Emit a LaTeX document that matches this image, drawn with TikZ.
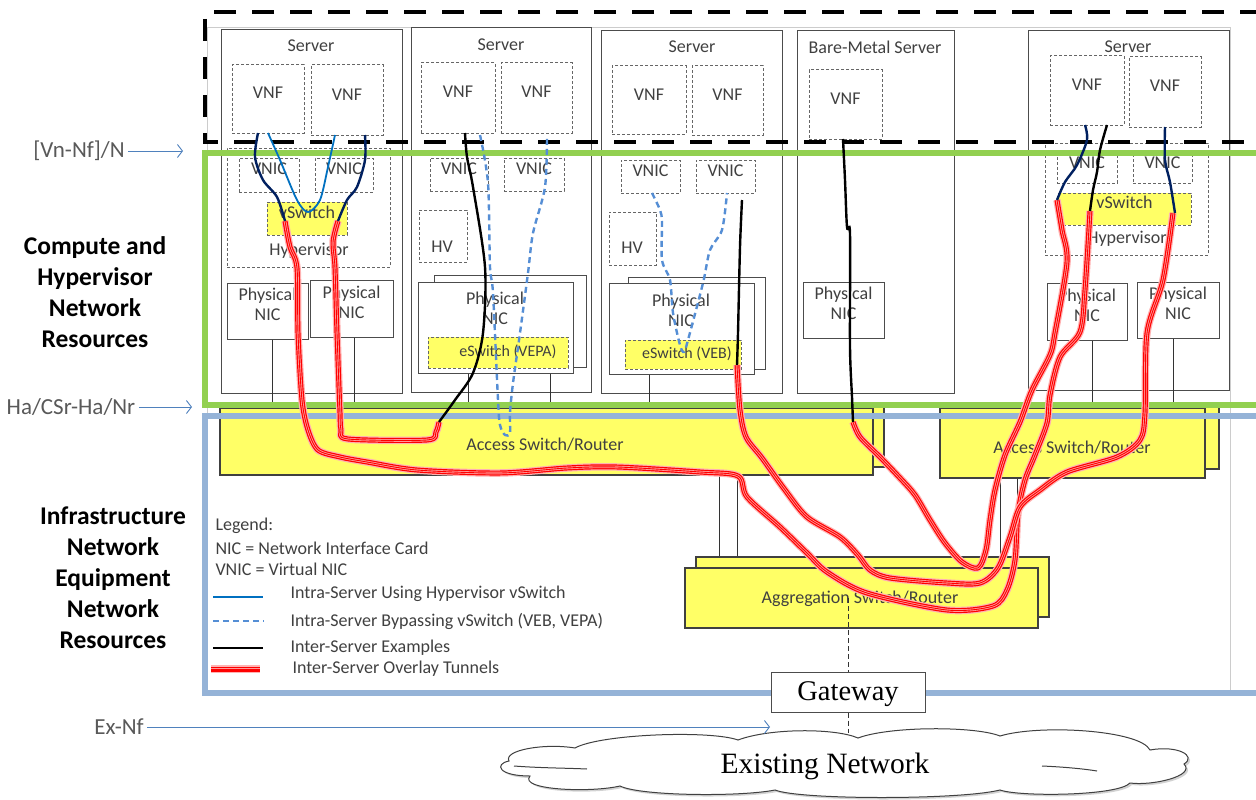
\documentclass[tikz,border=0pt]{standalone}
\usepackage{fontspec}
\setmainfont{Carlito}
\newfontfamily\serifgw{Liberation Serif}
\usetikzlibrary{arrows.meta, fit, shadows}

\definecolor{verdemarco}{HTML}{92D050}
\definecolor{azulmarco}{HTML}{95B3D7}
\definecolor{amarillo}{HTML}{FFFF66}
\definecolor{azulflecha}{HTML}{4F81BD}
\definecolor{marino}{HTML}{002060}
\definecolor{azulclaro}{HTML}{0070C0}
\definecolor{azulpunto}{HTML}{558ED5}
\definecolor{texto}{HTML}{404040}

\tikzset{
  etiq/.style={font=\fontsize{18pt}{20pt}\selectfont, text=texto},
  chica/.style={font=\fontsize{16pt}{18pt}\selectfont, text=texto},
  punto/.style={font=\fontsize{23pt}{26pt}\selectfont, text=black!65},
  grupo/.style={font=\fontsize{25.5pt}{31pt}\selectfont\bfseries, align=center},
  caja/.style={draw=black!70, line width=1pt, fill=white, inner sep=0pt},
  virtual/.style={draw=black!60, dash pattern=on 3pt off 2pt, line width=1pt, inner sep=0pt},
  conmut/.style={draw=black!75, fill=amarillo, line width=1.2pt, inner sep=0pt},
  vconmut/.style={virtual, fill=amarillo},
  enlace/.style={draw=black!80, line width=0.9pt},
  interfaz/.style={draw=azulflecha, line width=0.9pt, -{Straight Barb[length=5pt,width=13pt]}},
  intra/.style={draw=azulclaro, line width=1.8pt},
  bypass/.style={draw=azulpunto, line width=2.4pt, dash pattern=on 6pt off 4pt},
  inter/.style={draw=black, line width=2.4pt},
  vnic/.style={draw=marino, line width=2.4pt},
  tunel/.style={draw=red!30, line width=7.5pt, line join=round,
    postaction={draw=red, line width=5pt},
    postaction={draw=white, draw opacity=0.6, line width=2.6pt},
    postaction={draw=red, line width=0.9pt}},
}

\begin{document}
\begin{tikzpicture}[x=1pt, y=-1pt]
    \useasboundingbox (0,0) rectangle (1256,800);
    \fill[white] (0,0) rectangle (1256,800);
    \draw[black!20, line width=0.8pt] (207,27) rectangle (1230,693);

    % Servidores
    \node[caja, fit={(221,30) (402,393)}] (srv1) {};
    \node[caja, fit={(411,28) (591,392)}] (srv2) {};
    \node[caja, fit={(601,31) (782,393)}] (srv3) {};
    \node[caja, fit={(797,31) (954,393)}] (srv4) {};
    \node[caja, fit={(1028,31) (1229,390)}] (srv5) {};
    \node[etiq] (tit1) at (311,46) {Server};
    \node[etiq] (tit2) at (501,45) {Server};
    \node[etiq] (tit3) at (692,47) {Server};
    \node[etiq] (tit4) at (875,47) {Bare-Metal Server};
    \node[etiq] (tit5) at (1128,47) {Server};

    % VNF
    \node[virtual, etiq, fit={(232,65) (304,133)}] (vnf11) {VNF};
    \node[virtual, etiq, fit={(311,65) (383,135)}] (vnf12) {VNF};
    \node[virtual, etiq, fit={(421,63) (495,133)}] (vnf21) {VNF};
    \node[virtual, etiq, fit={(501,63) (572,133)}] (vnf22) {VNF};
    \node[virtual, etiq, fit={(612,66) (686,134)}] (vnf31) {VNF};
    \node[virtual, etiq, fit={(692,66) (763,135)}] (vnf32) {VNF};
    \node[virtual, etiq, fit={(809,70) (882,139)}] (vnf41) {VNF};
    \node[virtual, etiq, fit={(1050,56) (1124,125)}] (vnf51) {VNF};
    \node[virtual, etiq, fit={(1129,57) (1201,127)}] (vnf52) {VNF};

    % Hipervisores, VNIC y vSwitch
    \node[virtual, fit={(227,148) (390,267)}] (hyp1) {};
    \node[virtual, fit={(1045,143) (1208,255)}] (hyp5) {};
    \node[etiq] (hyptxt1) at (309,251) {Hypervisor};
    \node[etiq] (hyptxt5) at (1127,239) {Hypervisor};
    \node[virtual, etiq, fit={(239,158) (299,192)}] (vnic11) {VNIC};
    \node[virtual, etiq, fit={(315,158) (373,192)}] (vnic12) {VNIC};
    \node[virtual, etiq, fit={(430,158) (488,191)}] (vnic21) {VNIC};
    \node[virtual, etiq, fit={(504,158) (564,191)}] (vnic22) {VNIC};
    \node[virtual, etiq, fit={(621,160) (680,193)}] (vnic31) {VNIC};
    \node[virtual, etiq, fit={(696,160) (755,193)}] (vnic32) {VNIC};
    \node[virtual, etiq, fit={(1057,155) (1117,183)}] (vnic51) {VNIC};
    \node[virtual, etiq, fit={(1133,155) (1192,183)}] (vnic52) {VNIC};
    \node[vconmut, etiq, fit={(267,202) (347,235)}] (vsw1) {vSwitch};
    \node[vconmut, etiq, fit={(1058,193) (1191,225)}] (vsw5) {vSwitch};
    \node[virtual, fit={(419,210) (467,262)}] (hv2) {};
    \node[virtual, fit={(609,212) (656,265)}] (hv3) {};
    \node[etiq] (hvtxt2) at (442,247) {HV};
    \node[etiq] (hvtxt3) at (632,248) {HV};

    % NIC fisicas
    \node[caja, etiq, align=center, fit={(227,283) (308,339)}] (nic11) {Physical\\NIC};
    \node[caja, etiq, align=center, fit={(310,280) (393,337)}] (nic12) {Physical\\NIC};
    \node[caja, fit={(434,275) (586,367)}] (nic2b) {};
    \node[caja, fit={(418,282) (573,373)}] (nic2) {};
    \node[caja, fit={(628,277) (765,369)}] (nic3b) {};
    \node[caja, fit={(609,283) (754,374)}] (nic3) {};
    \node[caja, etiq, align=center, fit={(803,282) (884,338)}] (nic4) {Physical\\NIC};
    \node[caja, etiq, align=center, fit={(1047,283) (1127,340)}] (nic51) {Physical\\NIC};
    \node[caja, etiq, align=center, fit={(1137,282) (1219,338)}] (nic52) {Physical\\NIC};
    \node[etiq, align=center] (nictxt2) at (495,308) {Physical\\NIC};
    \node[etiq, align=center] (nictxt3) at (681,310) {Physical\\NIC};
    \node[vconmut, fit={(428,337) (568,368)}] (esw2) {};
    \node[vconmut, fit={(625,340) (741,369)}] (esw3) {};
    \node[chica] (eswtxt2) at (508,352) {eSwitch (VEPA)};
    \node[chica] (eswtxt3) at (687,354) {eSwitch (VEB)};

    % Conmutadores de acceso y agregacion
    \draw[enlace] (272,0 |- nic11.south) -- (272,410);
    \draw[enlace] (354,0 |- nic12.south) -- (354,410);
    \draw[enlace] (468,0 |- nic2.south) -- (468,410);
    \draw[enlace] (550,0 |- nic2.south) -- (550,410);
    \draw[enlace] (649,0 |- nic3.south) -- (649,410);
    \draw[enlace] (1092,0 |- nic51.south) -- (1092,410);
    \draw[enlace] (1173,0 |- nic52.south) -- (1173,410);
    \node[conmut, fit={(232,403) (884,467)}] (acc1b) {};
    \node[conmut, fit={(220,408) (873,475)}] (acc1) {};
    \node[conmut, fit={(952,403) (1219,469)}] (acc2b) {};
    \node[conmut, fit={(940,408) (1205,478)}] (acc2) {};
    \node[etiq] (acctxt1) at (545,445) {Access Switch/Router};
    \node[etiq] (acctxt2) at (1072,448) {Access Switch/Router};
    \draw[enlace] (719,0 |- acc1.south) -- (719,568);
    \draw[enlace] (737,0 |- acc1.south) -- (737,557);
    \draw[enlace] (1000,0 |- acc2.south) -- (1000,568);
    \draw[enlace] (1017,0 |- acc2.south) -- (1017,557);
    \node[conmut, fit={(696,557) (1049,617)}] (aggb) {};
    \node[conmut, fit={(685,568) (1038,628)}] (agg) {};
    \node[etiq] (aggtxt) at (860,599) {Aggregation Switch/Router};

    % Marcos de dominio
    \draw[line width=4pt, dash pattern=on 22pt off 16pt] (1262,12) -- (205,12) -- (205,142) -- (1262,142);
    \draw[verdemarco, line width=6pt] (1262,153) -- (205,153) -- (205,405) -- (1262,405);
    \draw[azulmarco, line width=6pt] (1262,416) -- (205,416) -- (205,693) -- (1262,693);

    % Tuneles
    \draw[tunel] plot[smooth] coordinates {(285,221) (290,247) (297,268) (298,333) (302,400) (308,430) (318,450) (340,457) (367,462) (417,470) (500,473) (567,468) (617,467) (700,472) (738,476) (747,497) (780,527) (807,553) (827,572) (867,593) (947,610) (993,606) (1007,590) (1015,560) (1018,513) (1025,480) (1035,455) (1047,423) (1050,395) (1060,357) (1080,332) (1085,290) (1090,211)};
    \draw[tunel] plot[smooth] coordinates {(338,221) (333,242) (335,268) (337,333) (340,413) (341,430) (348,439) (427,440) (436,432) (439,422)};
    \draw[tunel] plot[smooth] coordinates {(737,365) (740,410) (746,437) (762,458) (785,490) (807,517) (840,537) (858,555) (870,570) (890,578) (947,583) (980,583) (998,568) (1010,537) (1020,507) (1040,490) (1067,472) (1117,457) (1140,440) (1145,413) (1147,333) (1163,280) (1173,213)};
    \draw[tunel] plot[smooth] coordinates {(853,422) (860,437) (880,457) (900,478) (915,495) (930,520) (945,543) (962,562) (978,568) (986,550) (990,520) (995,490) (1005,455) (1020,422) (1032,390) (1050,355) (1055,333) (1067,262) (1062,230) (1057,200)};

    % Enlaces dentro de los servidores
    \draw[intra] plot[smooth] coordinates {(268,133) (280,160) (297,200) (308,212) (320,200) (328,167) (335,135)};
    \draw[vnic] plot[smooth] coordinates {(258,133) (255,157) (263,180) (277,197) (285,221)};
    \draw[vnic] plot[smooth] coordinates {(365,135) (365,160) (357,187) (347,200) (338,221)};
    \draw[bypass] plot[smooth] coordinates {(480,135) (488,183) (490,267) (493,293) (498,400) (500,425) (505,435) (510,433) (510,413) (513,383) (520,333) (528,273) (533,233) (545,187) (547,135)};
    \draw[bypass] plot[smooth] coordinates {(652,193) (660,210) (662,222) (662,260) (670,280) (673,313) (680,345) (684,352) (688,340) (703,283) (710,250) (722,230) (727,193)};
    \draw[inter] plot[smooth] coordinates {(465,133) (467,157) (473,187) (485,267) (483,333) (473,373) (455,400) (439,422)};
    \draw[inter] plot[smooth] coordinates {(742,200) (740,247) (738,333) (737,365)};
    \draw[inter] plot[smooth] coordinates {(843,139) (845,180) (847,227) (850,234) (850,347) (852,397) (853,422)};
    \draw[inter] plot[smooth] coordinates {(1107,125) (1100,150) (1097,172) (1093,190) (1090,211)};
    \draw[vnic] plot[smooth] coordinates {(1085,125) (1087,140) (1077,165) (1065,182) (1057,200)};
    \draw[vnic] plot[smooth] coordinates {(1165,127) (1165,160) (1170,182) (1175,213)};

    % Gateway y red existente
    \path[draw=black!75, line width=1pt, fill=white,
          drop shadow={opacity=0.35, shadow xshift=2pt, shadow yshift=-2pt}]
      (509,761) .. controls (503,750) and (545,743) .. (575,748)
      .. controls (600,734) and (710,730) .. (738,740)
      .. controls (770,728) and (835,728) .. (858,738)
      .. controls (890,726) and (975,726) .. (1000,736)
      .. controls (1040,724) and (1140,730) .. (1150,750)
      .. controls (1178,745) and (1197,756) .. (1184,764)
      .. controls (1196,776) and (1152,786) .. (1130,783)
      .. controls (1118,796) and (1020,797) .. (1000,790)
      .. controls (960,800) and (800,800) .. (775,790)
      .. controls (740,797) and (640,796) .. (620,786)
      .. controls (590,793) and (518,790) .. (530,776)
      .. controls (498,776) and (494,764) .. (509,761) -- cycle;
    \draw[black!75, line width=1pt] (514,766) .. controls (540,768) and (565,768) .. (587,769);
    \draw[black!75, line width=1pt] (1042,766) .. controls (1065,767) and (1085,769) .. (1097,771);
    \coordinate (nubesup) at (848,733);
    \node[font=\serifgw\fontsize{29.5pt}{32pt}\selectfont] (nubetxt) at (825,766) {Existing Network};
    \node[caja, fit={(771,672) (925,712)}] (gw) {};
    \node[font=\serifgw\fontsize{28.5pt}{30pt}\selectfont] (gwtxt) at (848,694) {Gateway};
    \draw[enlace, dash pattern=on 5pt off 3pt] (gw.north |- agg.center) -- (gw.north);
    \draw[enlace, dash pattern=on 5pt off 3pt] (gw.south) -- (nubesup);

    % Puntos de referencia
    \node[punto] (vnnf) at (79,151) {[Vn-Nf]/N};
    \node[punto] (hanr) at (71,407) {Ha/CSr-Ha/Nr};
    \node[punto] (exnf) at (119,727) {Ex-Nf};
    \coordinate (vnnffin) at (183,151);
    \coordinate (hanrfin) at (192,407);
    \coordinate (exnffin) at (770,727);
    \draw[interfaz] (vnnf.east) -- (vnnffin);
    \draw[interfaz] (hanr.east) -- (hanrfin);
    \draw[interfaz] (exnf.east) -- (exnffin);
    \node[grupo] (compute) at (95,292) {Compute and\\Hypervisor\\Network\\Resources};
    \node[grupo] (infra) at (113,578) {Infrastructure\\Network\\Equipment\\Network\\Resources};

    % Leyenda
    \node[etiq, anchor=west] (ley) at (212,526) {Legend:};
    \node[etiq, anchor=west] (ley1) at (212,548) {NIC = Network Interface Card};
    \node[etiq, anchor=west] (ley2) at (212,569) {VNIC = Virtual NIC};
    \node[etiq, anchor=west] (ley3) at (287,594) {Intra-Server Using Hypervisor vSwitch};
    \node[etiq, anchor=west] (ley4) at (287,621) {Intra-Server Bypassing vSwitch (VEB, VEPA)};
    \node[etiq, anchor=west] (ley5) at (287,648) {Inter-Server Examples};
    \node[etiq, anchor=west] (ley6) at (289,669) {Inter-Server Overlay Tunnels};
    \draw[intra, line width=2.4pt] (213,597) -- (263,597);
    \draw[bypass] (213,621) -- (264,621);
    \draw[inter] (213,648) -- (263,648);
    \draw[tunel] (211,669) -- (260,669);
\end{tikzpicture}
\end{document}
